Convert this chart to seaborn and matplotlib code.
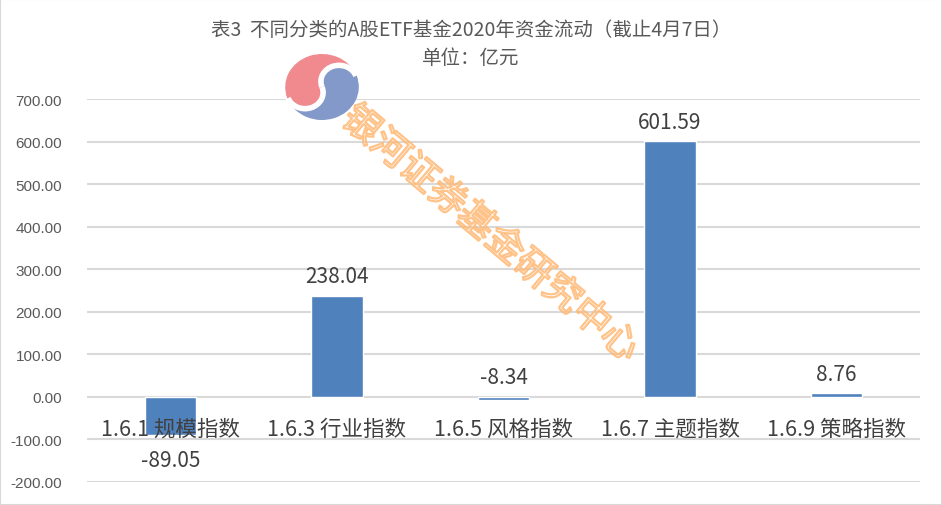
import matplotlib
matplotlib.use("Agg")
import matplotlib.pyplot as plt
import matplotlib.patheffects as pe
from matplotlib.patches import Wedge, Circle, Rectangle, Arc
import numpy as np
import seaborn as sns
import pandas as pd

categories = ["1.6.1 规模指数", "1.6.3 行业指数", "1.6.5 风格指数", "1.6.7 主题指数", "1.6.9 策略指数"]
values = [-89.05, 238.04, -8.34, 601.59, 8.76]
value_labels = ["-89.05", "238.04", "-8.34", "601.59", "8.76"]
yticks = [-200, -100, 0, 100, 200, 300, 400, 500, 600, 700]
title_line1 = "表3  不同分类的A股ETF基金2020年资金流动（截止4月7日）"
title_line2 = "单位：亿元"
watermark = "银河证券基金研究中心"

sns.set_theme(style="white")
plt.rcParams['font.family'] = ['Noto Sans CJK SC', 'DejaVu Sans']

df = pd.DataFrame({"cat": categories, "val": values})

fig = plt.figure(figsize=(9.42, 5.06), dpi=100)
ax = fig.add_axes([0.0924, 0.0455, 0.8842, 0.7565])
sns.barplot(data=df, x="cat", y="val", color="#4F81BD", saturation=1, width=0.31, ax=ax, zorder=3)
ax.set_ylim(-200, 700)
ax.set_xlim(-0.5, len(categories) - 0.5)
ax.set_yticks(yticks)
ax.set_yticklabels([f"{t:.2f}" for t in yticks], fontsize=11, color="#595959",
                   family=['Liberation Sans', 'DejaVu Sans'])
ax.tick_params(axis='y', length=0, pad=18)
ax.set_xticks([])
ax.set_xlabel("")
ax.set_ylabel("")
for s in ax.spines.values():
    s.set_visible(False)
ax.grid(axis='y', color="#D9D9D9", linewidth=1.5, zorder=0)
ax.set_axisbelow(True)

for i, (c, v, lab) in enumerate(zip(categories, values, value_labels)):
    ax.annotate(c, (i, 0), xytext=(0, -23), textcoords="offset points",
                ha="center", va="center", fontsize=15.5, color="#404040", zorder=5)
    if v < -50:
        ax.annotate(lab, (i, v), xytext=(0, -18), textcoords="offset points",
                    ha="center", va="center", fontsize=15, color="#404040", zorder=5)
    else:
        base = max(v, 0)
        ax.annotate(lab, (i, base), xytext=(0, 14), textcoords="offset points",
                    ha="center", va="center", fontsize=15, color="#404040", zorder=5)

fig.text(0.5, 1 - 30 / 506, title_line1, ha="center", va="center", fontsize=14, color="#595959")
fig.text(0.5, 1 - 58 / 506, title_line2, ha="center", va="center", fontsize=14, color="#595959")

# watermark text (hollow, orange outline)
fig.text(490 / 942, 1 - 235 / 506, watermark, ha="center", va="center", fontsize=27,
         rotation=-40, color=(1, 1, 1, 0.0), zorder=10,
         path_effects=[pe.Stroke(linewidth=1.6, foreground=(1, 0.72, 0.45, 0.85)),
                       pe.Normal()])

# logo
lax = fig.add_axes([(322 - 38) / 942, 1 - (88 + 34) / 506, 76 / 942, 68 / 506])
lax.set_xlim(-1, 1)
lax.set_ylim(-1, 1)
lax.axis('off')
a = 20
R = 0.95
red, blue = "#F08A8E", "#8399C9"
lax.add_patch(Wedge((0, 0), R, a, a + 180, color=red))
lax.add_patch(Wedge((0, 0), R, a + 180, a + 360, color=blue))
ca, sa = np.cos(np.radians(a)), np.sin(np.radians(a))
lax.add_patch(Circle((R / 2 * ca, R / 2 * sa), R / 2, color=blue))
lax.add_patch(Circle((-R / 2 * ca, -R / 2 * sa), R / 2, color=red))
lax.add_patch(Arc((R / 2 * ca, R / 2 * sa), R, R, theta1=a, theta2=a + 180, color="white", lw=4))
lax.add_patch(Arc((-R / 2 * ca, -R / 2 * sa), R, R, theta1=a + 180, theta2=a + 360, color="white", lw=4))

fig.add_artist(Rectangle((0, 0), 1, 1, transform=fig.transFigure, fill=False,
                         edgecolor="#D9D9D9", linewidth=1.5))

fig.savefig("out.png", dpi=100)
